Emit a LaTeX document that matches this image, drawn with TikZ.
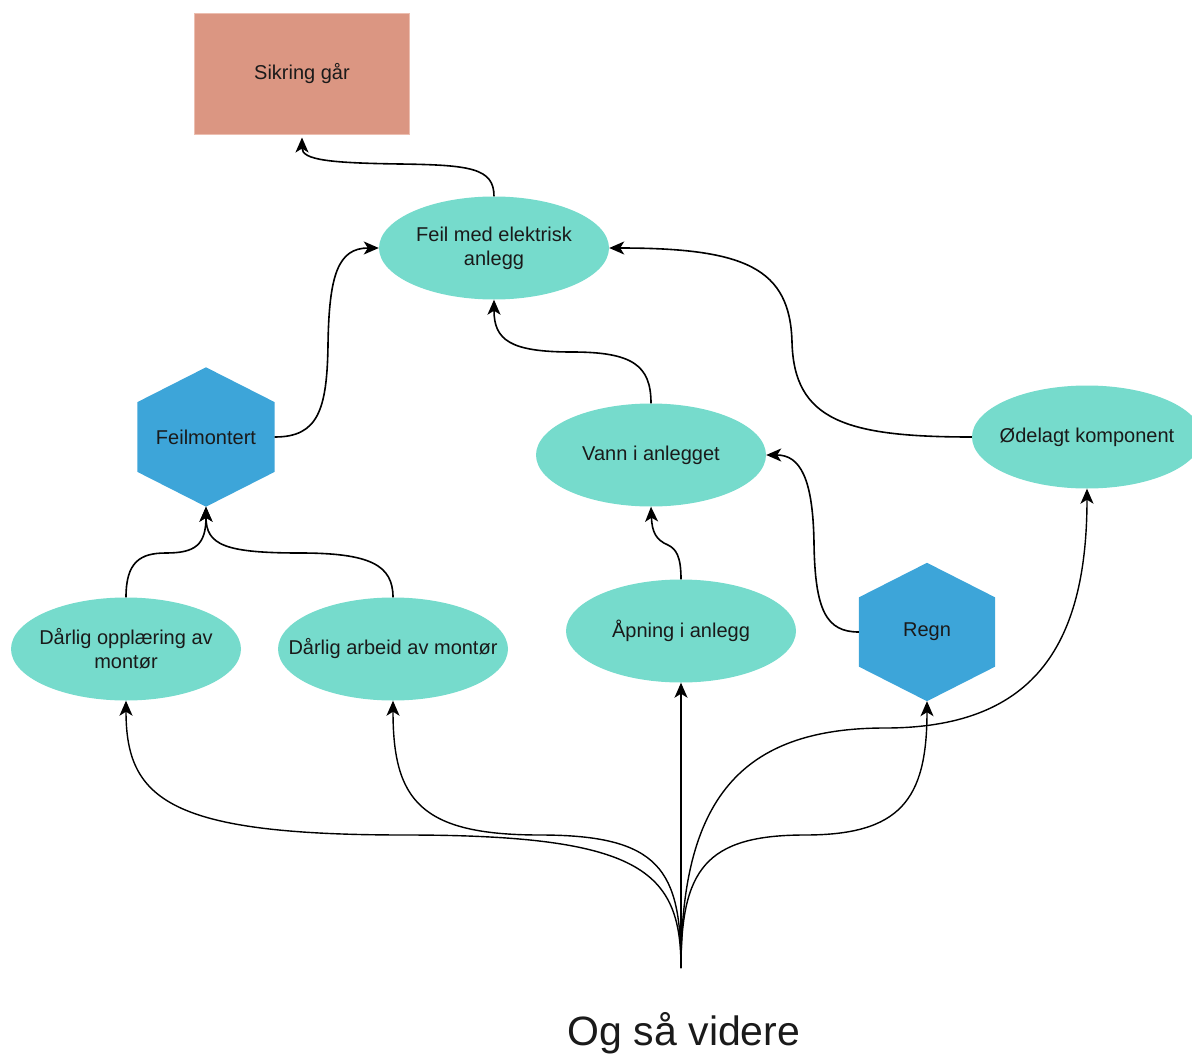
\documentclass[tikz,border=0pt]{standalone}
\usepackage{fontspec}
\setmainfont{Liberation Sans}
\usetikzlibrary{arrows.meta,calc,backgrounds}
\definecolor{teal}{RGB}{118,219,204}
\definecolor{hexblue}{RGB}{61,165,217}
\definecolor{salmon}{RGB}{219,150,130}
\definecolor{salmonedge}{RGB}{236,190,176}
\definecolor{ink}{RGB}{26,26,26}
\tikzset{
  lbl/.style={font=\fontsize{20}{24}\selectfont, text=ink, align=center, inner sep=0pt},
  oval/.style={lbl, minimum width=230pt, minimum height=103pt},
  hexbox/.style={lbl, minimum width=137pt, minimum height=139pt},
  boxnode/.style={lbl, rectangle, fill=salmon, draw=salmonedge, line width=1pt, minimum width=215pt, minimum height=120pt},
  tip/.style={-{Stealth[length=15pt,width=13pt,inset=4pt]}},
  arr/.style={draw=black, line width=1.6pt, tip},
  bundle/.style={draw=black, line width=1.4pt, tip}
}
\begin{document}
\begin{tikzpicture}[x=1pt,y=-1pt]
\useasboundingbox (0,0) rectangle (1192,1057);

% nodes
\node[boxnode] (sik) at (302,74) {Sikring går};
\node[oval] (feil) at (494,248) {Feil med elektrisk\\anlegg};
\node[hexbox] (fm) at (206,437) {Feilmontert};
\node[oval] (vann) at (651,455) {Vann i anlegget};
\node[oval] (oed) at (1087,437) {Ødelagt komponent};
\node[oval] (dop) at (126,649) {Dårlig opplæring av\\montør};
\node[oval] (dar) at (393,649) {Dårlig arbeid av montør};
\node[oval] (apn) at (681,631) {Åpning i anlegg};
\node[hexbox, minimum width=136pt, minimum height=138pt] (regn) at (927,632) {Regn};
\node[inner sep=0pt, font=\fontsize{41}{48}\selectfont, text=ink] (more) at (684,1033) {Og så videre};
\coordinate (src) at (681,968);

% shape fills behind the labels
\begin{scope}[on background layer]
\foreach \o in {feil,vann,oed,dop,dar,apn}
  \fill[teal] (\o.center) ellipse [x radius=115, y radius=51.5];
\foreach \h in {fm,regn}
  \fill[hexblue] (\h.north)
    -- ($(\h.north east)!0.25!(\h.south east)$)
    -- ($(\h.north east)!0.75!(\h.south east)$)
    -- (\h.south)
    -- ($(\h.north west)!0.75!(\h.south west)$)
    -- ($(\h.north west)!0.25!(\h.south west)$) -- cycle;
\end{scope}

% causal links
\draw[arr, shorten >=3pt] (feil.north) .. controls (494,168) and (470,165) .. (400,164)
  .. controls (330,163) and (302,160) .. (sik.south);
\draw[arr] (fm.east) .. controls (318,437) and (327,410) .. (328,345)
  .. controls (329,275) and (338,248) .. (feil.west);
\draw[arr] (vann.north) .. controls (651,365) and (632,352) .. (572,352)
  .. controls (510,352) and (494,340) .. (feil.south);
\draw[arr] (oed.west) .. controls (845,437) and (794,420) .. (792,342)
  .. controls (790,268) and (745,248) .. (feil.east);
\draw[arr] (apn.north) .. controls (681,556) and (676,549) .. (668,545)
  .. controls (656,540) and (652,532) .. (vann.south);
\draw[arr] (regn.west) .. controls (826,632) and (815,610) .. (814,543)
  .. controls (813,478) and (800,455) .. (vann.east);
\draw[arr] (dop.north) .. controls (126,562) and (140,553) .. (166,553)
  .. controls (195,553) and (206,545) .. (fm.south);
\draw[arr] (dar.north) .. controls (393,565) and (370,553) .. (300,553)
  .. controls (225,553) and (206,545) .. (fm.south);

% fan of links from the open end
\draw[bundle] (src) .. controls (681,870) and (640,835) .. (405,835)
  .. controls (170,835) and (126,800) .. (dop.south);
\draw[bundle] (src) .. controls (681,870) and (660,835) .. (540,835)
  .. controls (420,835) and (393,800) .. (dar.south);
\draw[bundle] (src) -- (apn.south);
\draw[bundle] (src) .. controls (681,870) and (705,835) .. (805,835)
  .. controls (900,835) and (927,800) .. (regn.south);
\draw[bundle] (src) .. controls (681,800) and (740,728) .. (885,728)
  .. controls (1030,728) and (1087,650) .. (oed.south);
\end{tikzpicture}
\end{document}
